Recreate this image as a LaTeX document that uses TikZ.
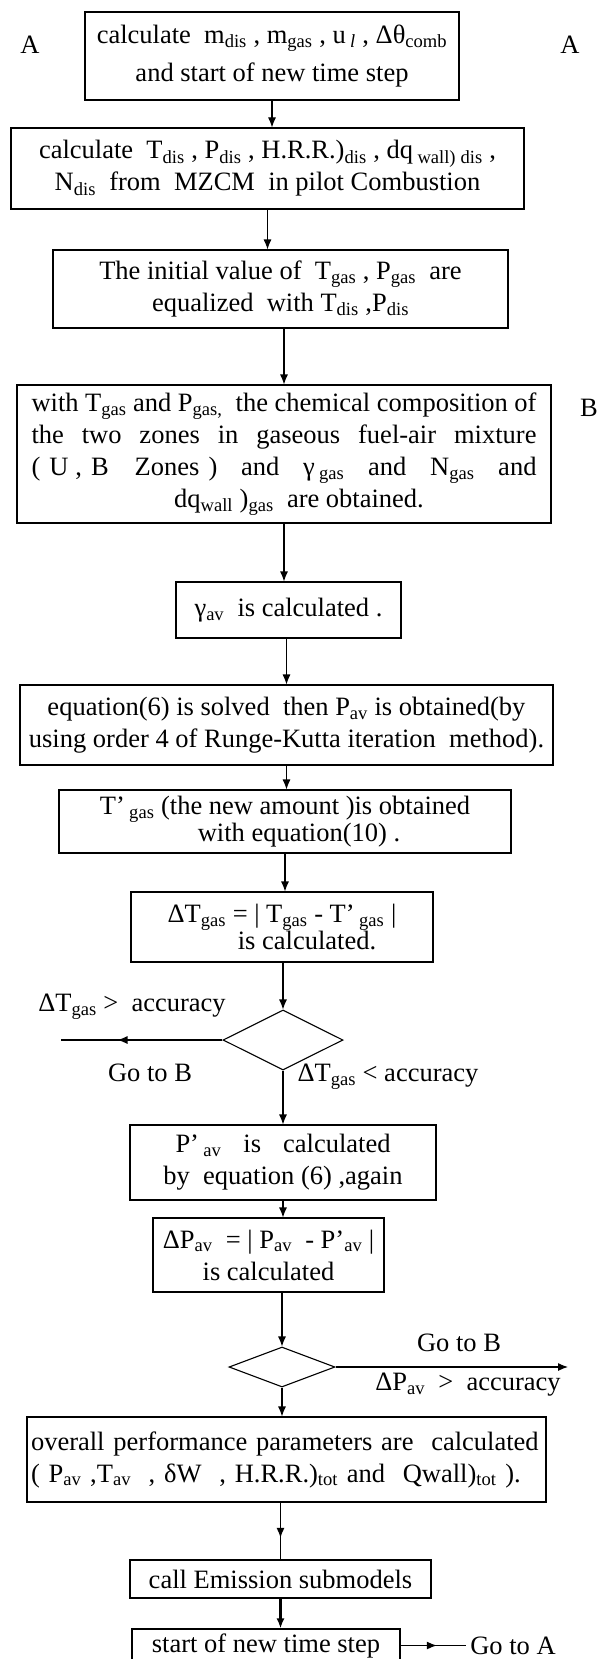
\documentclass[tikz,border=0pt]{standalone}
\usepackage{fontspec}
\setmainfont{Liberation Serif}
\usetikzlibrary{shapes.geometric,arrows.meta,decorations.markings}

\newcommand\sbs[1]{\textsubscript{#1}}
\newcommand\spread[2]{\makebox[#1][s]{#2}}

\begin{document}
\begin{tikzpicture}[x=1pt, y=-1pt, >={Latex[length=10pt,width=8pt]}, line width=1.1pt,
  font=\fontsize{26.5}{32}\selectfont,
  box/.style={draw, align=center, inner sep=2pt},
  test/.style={draw, diamond, inner sep=0pt},
  midarrow/.style={postaction={decorate},
    decoration={markings, mark=at position #1 with {\arrow{>}}}}]
\useasboundingbox (0,0) rectangle (598,1659);

% steps of the loop
\node[box, minimum width=374pt, minimum height=88pt] (b1) at (272,56)
  {calculate\ \ m\sbs{dis} , m\sbs{gas}\ , u\,\sbs{\textit{l}}\ , Δθ\sbs{comb}\\[6pt] and start of new time step};
\node[box, minimum width=513pt, minimum height=81pt] (b2) at (267.5,168.5)
  {calculate\ \ T\sbs{dis} , P\sbs{dis} , H.R.R.)\sbs{dis} , dq\,\sbs{wall)}\,\sbs{dis} ,\\ N\sbs{dis}\ \ from\ \ MZCM\ \ in pilot Combustion};
\node[box, minimum width=455pt, minimum height=78pt] (b3) at (280.5,289)
  {The initial value of\ \ T\sbs{gas} , P\sbs{gas}\ \ are\\ equalized\ \ with T\sbs{dis} ,P\sbs{dis}};
\node[box, minimum width=534pt, minimum height=138pt] (b4) at (284,454)
  {\spread{505pt}{with T\sbs{gas} and P\sbs{gas,}\ \ the chemical composition of}\\
   \spread{505pt}{the two zones in gaseous fuel-air mixture}\\
   \spread{505pt}{(\hspace{9pt}U\hspace{7pt},\hspace{9pt}B\hspace{26pt}Zones\hspace{9pt}) and γ\,\sbs{gas} and N\sbs{gas} and}\\
   \hspace*{30pt}dq\sbs{wall} )\sbs{gas}\ \ are obtained.};
\node[box, minimum width=225pt, minimum height=56pt] (b5) at (288.5,610)
  {γ\sbs{av}\ \ is calculated .};
\node[box, minimum width=533pt, minimum height=80pt] (b6) at (286.5,725)
  {equation(6) is solved\ \ then P\sbs{av} is obtained(by\\ using order 4 of Runge-Kutta iteration\ \ method).};
\node[box, minimum width=452pt, minimum height=63pt] (b7) at (285,821.5)
  {T’\,\sbs{gas} (the new amount )is obtained\\[-5pt] \hspace*{28pt}with equation(10) .};
\node[box, minimum width=302pt, minimum height=70pt] (b8) at (282,927)
  {ΔT\sbs{gas} = | T\sbs{gas} - T’\,\sbs{gas} |\\[-5pt] \hspace*{50pt}is calculated.};
\node[test, minimum width=120pt, minimum height=60pt] (d1) at (283,1040) {};
\node[box, minimum width=306pt, minimum height=75pt] (b9) at (283,1162.5)
  {\spread{215pt}{P’\,\sbs{av} is calculated}\\ by\ \ equation (6) ,again};
\node[box, minimum width=231pt, minimum height=74pt] (b10) at (268.5,1255)
  {ΔP\sbs{av}\ \ = | P\sbs{av}\ \ - P’\sbs{av} |\\ is calculated};
\node[test, minimum width=106pt, minimum height=40pt] (d2) at (282,1367) {};
\node[box, align=left, inner xsep=4pt, text width=511pt, minimum height=85pt] (b11) at (286.5,1459.5)
  {overall performance parameters are\ \ calculated\\ ( P\sbs{av} ,T\sbs{av}\ \ , δW\ \ , H.R.R.)\sbs{tot} and\ \ Qwall)\sbs{tot} ).};
\node[box, minimum width=301pt, minimum height=38pt] (b12) at (280.5,1579)
  {call Emission submodels};
\node[box, minimum width=268pt, minimum height=33pt] (b13) at (266,1645.5)
  {start of new time step};

% jump marks and branch labels
\node (aL) at (30,45) {A};
\node (aR) at (570,45) {A};
\node (bR) at (589,408) {B};
\node (dt1) at (132,1007) {ΔT\sbs{gas} >\ \ accuracy};
\node (gtB1) at (150,1073) {Go to B};
\node (dt2) at (388,1077) {ΔT\sbs{gas} < accuracy};
\node (gtB2) at (459,1343) {Go to B};
\node (dp) at (468,1385) {ΔP\sbs{av}\ \ >\ \ accuracy};
\node (gtA) at (513,1645.5) {Go to A};
\coordinate (toB1) at (61,1040);
\coordinate (toB2) at (568,1367);

% flow
\draw[->] (b1.south) -- (b1.south |- b2.north);
\draw[->] (b2.south) -- (b2.south |- b3.north);
\draw[->] (b4.north |- b3.south) -- (b4.north);
\draw[->] (b4.south) -- (b4.south |- b5.north);
\draw[->] (b6.north |- b5.south) -- (b6.north);
\draw[->] (b6.south) -- (b6.south |- b7.north);
\draw[->] (b7.south) -- (b7.south |- b8.north);
\draw[->] (d1.north |- b8.south) -- (d1.north);
\draw[->] (d1.south) -- (d1.south |- b9.north);
\draw[->] (b9.south) -- (b9.south |- b10.north);
\draw[->] (d2.north |- b10.south) -- (d2.north);
\draw[->] (d2.south) -- (d2.south |- b11.north);
\draw[midarrow=0.62] (b12.north |- b11.south) -- (b12.north);
\draw[->, line width=2.2pt] (b12.south) -- (b12.south |- b13.north);

% loop back
\draw[midarrow=0.65] (d1.west) -- (toB1);
\draw[->] (d2.east) -- (toB2);
\draw[midarrow=0.55] (b13.east) -- (gtA.west);
\end{tikzpicture}
\end{document}
